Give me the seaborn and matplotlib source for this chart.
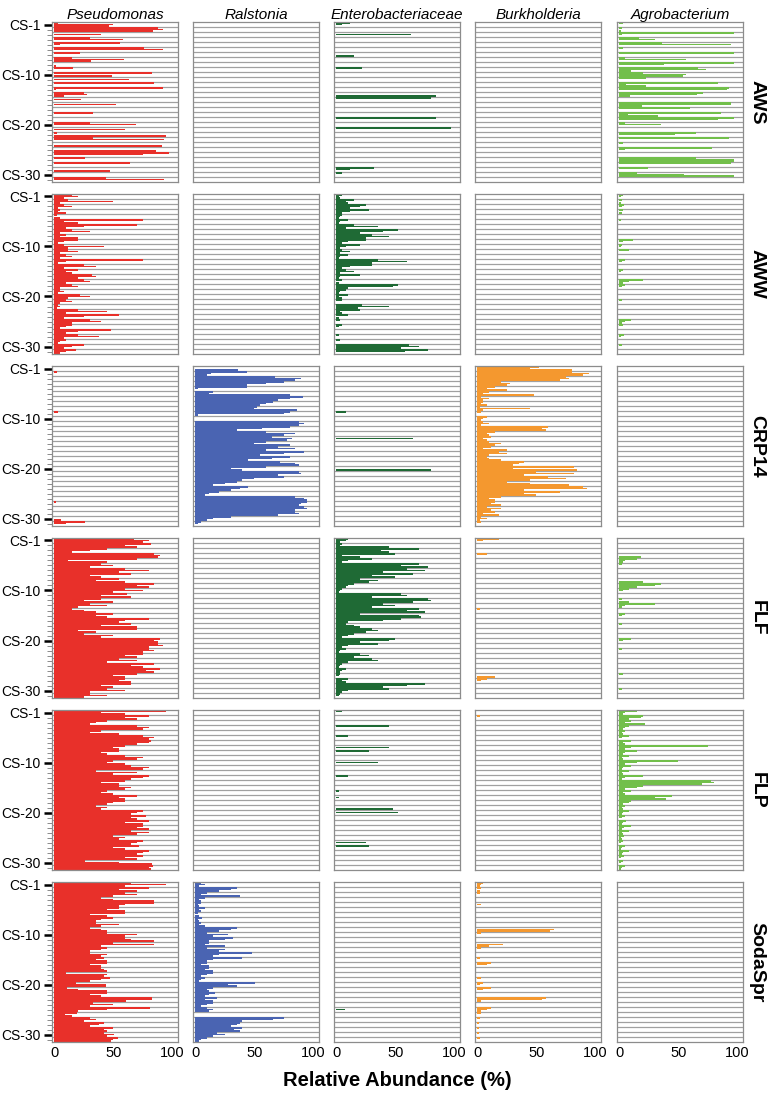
import matplotlib
matplotlib.use("Agg")
import matplotlib.pyplot as plt
import seaborn as sns
import pandas as pd

sites = ["AWS", "AWW", "CRP14", "FLF", "FLP", "SodaSpr"]
taxa = ["Pseudomonas", "Ralstonia", "Enterobacteriaceae", "Burkholderia", "Agrobacterium"]
taxon_colors = ["#e8302a", "#4a64b2", "#1f6a35", "#f4982f", "#72bf4b"]

# samples on the y axis (32 rows), label every 10th
n_rows = 32
tick_rows = [0, 10, 20, 30]
tick_labels = ["CS-1", "CS-10", "CS-20", "CS-30"]

# relative abundance (%), three replicates per sample row
aws_pseudomonas = [
    (3, 50, 46), (88, 92, 84), (0, 40, 0), (30, 58, 0),
    (56, 5, 0), (76, 92, 0), (22, 0, 0), (15, 59, 31),
    (0, 0, 1), (16, 0, 0), (83, 0, 49), (0, 63, 0),
    (85, 0, 0), (92, 1, 0), (25, 28, 8), (0, 23, 0),
    (0, 52, 0), (0, 0, 0), (33, 0, 0), (0, 0, 0),
    (30, 69, 0), (0, 60, 0), (2, 0, 95), (33, 93, 0),
    (0, 0, 91), (0, 0, 86), (97, 75, 0), (26, 0, 0),
    (64, 0, 0), (0, 0, 47), (0, 0, 0), (44, 93, 0),
]
aws_entero = {0: (12, 5, 0), 2: (0, 63, 0), 6: (0, 0, 15), 9: (22, 0, 0),
              14: (0, 0, 85), 15: (80, 0, 0), 19: (85, 0, 0), 21: (97, 0, 0),
              29: (32, 12, 0), 30: (5, 0, 0)}
aws_agro = [
    (3, 0, 0), (2, 0, 1), (97, 2, 0), (17, 30, 0),
    (36, 95, 0), (3, 0, 0), (97, 0, 0), (5, 57, 0),
    (97, 38, 0), (67, 74, 10), (20, 57, 54), (23, 0, 0),
    (84, 6, 23), (93, 91, 0), (71, 66, 9), (0, 0, 0),
    (95, 95, 19), (60, 0, 0), (86, 7, 33), (97, 84, 0),
    (5, 35, 0), (0, 0, 0), (65, 47, 0), (93, 0, 0),
    (3, 0, 0), (79, 5, 0), (0, 0, 0), (65, 97, 97),
    (95, 0, 0), (24, 0, 0), (15, 55, 97), (0, 0, 0),
]

aww_pseudomonas = [
    (15, 20, 8), (12, 50, 5), (8, 15, 3), (5, 3, 10),
    (2, 0, 5), (75, 8, 20), (70, 25, 10), (15, 30, 5),
    (10, 5, 20), (20, 8, 3), (8, 42, 12), (12, 20, 5),
    (10, 15, 5), (75, 10, 3), (25, 35, 8), (20, 10, 15),
    (32, 35, 20), (25, 30, 10), (15, 20, 5), (5, 8, 3),
    (22, 30, 12), (10, 15, 5), (3, 5, 2), (20, 45, 10),
    (55, 25, 8), (30, 40, 15), (15, 10, 5), (48, 20, 10),
    (20, 38, 8), (10, 5, 3), (25, 15, 8), (18, 10, 5),
]
aww_entero = [
    (5, 2, 3), (15, 8, 10), (25, 20, 12), (28, 12, 5),
    (5, 3, 2), (10, 3, 2), (15, 35, 8), (52, 40, 20),
    (30, 45, 25), (25, 10, 5), (20, 8, 3), (5, 12, 3),
    (10, 3, 2), (35, 60, 30), (30, 12, 5), (8, 15, 3),
    (20, 3, 2), (5, 0, 2), (52, 48, 10), (8, 3, 2),
    (10, 2, 5), (5, 0, 0), (22, 45, 18), (20, 3, 5),
    (10, 0, 2), (3, 0, 0), (5, 2, 0), (0, 0, 0),
    (2, 0, 0), (3, 0, 0), (62, 70, 55), (78, 58, 0),
]
aww_agro = {0: (3, 1, 0), 1: (2, 0, 1), 2: (4, 2, 0), 3: (3, 0, 2), 5: (1, 0, 0),
            9: (12, 3, 0), 10: (2, 1, 0), 11: (8, 0, 0), 13: (5, 2, 0), 15: (3, 1, 0),
            17: (20, 8, 3), 18: (5, 2, 0), 21: (2, 0, 0), 25: (10, 5, 2),
            26: (3, 0, 0), 28: (4, 1, 0), 30: (2, 0, 0)}

crp14_pseudomonas = {1: (2, 0, 0), 9: (3, 0, 0), 27: (1, 0, 0), 30: (0, 0, 6), 31: (26, 10, 0)}
crp14_ralstonia = [
    (0, 0, 36), (44, 13, 10), (68, 90, 85), (75, 60, 44),
    (44, 2, 0), (15, 12, 80), (91, 80, 70), (66, 60, 55),
    (52, 50, 86), (80, 75, 2), (0, 0, 0), (88, 92, 88),
    (80, 57, 35), (60, 85, 75), (65, 82, 78), (60, 50, 80),
    (70, 85, 60), (92, 75, 55), (80, 65, 45), (72, 85, 88),
    (60, 30, 40), (88, 90, 70), (75, 50, 40), (35, 25, 15),
    (45, 38, 30), (20, 12, 8), (85, 92, 95), (95, 90, 88),
    (92, 95, 85), (85, 88, 70), (30, 15, 10), (5, 2, 0),
]
crp14_entero = {9: (8, 0, 0), 14: (0, 65, 0), 20: (0, 0, 80)}
crp14_burkholderia = [
    (52, 45, 80), (80, 95, 90), (75, 78, 70), (20, 28, 25),
    (15, 8, 25), (10, 5, 48), (3, 10, 5), (5, 3, 8),
    (2, 45, 5), (3, 0, 0), (8, 5, 3), (5, 10, 3),
    (60, 55, 58), (15, 8, 10), (12, 5, 8), (10, 20, 15),
    (12, 5, 25), (18, 25, 10), (8, 10, 20), (40, 35, 30),
    (82, 30, 85), (50, 82, 40), (60, 75, 45), (25, 45, 78),
    (90, 93, 40), (70, 40, 50), (20, 10, 15), (15, 12, 20),
    (8, 20, 12), (15, 5, 18), (3, 8, 2), (3, 0, 0),
]

flf_pseudomonas = [
    (68, 80, 75), (82, 60, 70), (45, 30, 15), (85, 90, 88),
    (70, 12, 45), (40, 50, 30), (60, 80, 55), (65, 30, 40),
    (55, 35, 60), (85, 70, 80), (60, 75, 50), (62, 40, 65),
    (40, 25, 50), (30, 45, 20), (15, 25, 35), (50, 35, 45),
    (80, 60, 55), (65, 40, 70), (70, 20, 35), (25, 50, 40),
    (90, 85, 88), (88, 92, 80), (80, 85, 75), (75, 60, 70),
    (55, 70, 45), (85, 65, 75), (90, 78, 85), (70, 50, 60),
    (60, 55, 65), (65, 40, 50), (45, 60, 30), (30, 45, 25),
]
flf_entero = [
    (10, 8, 3), (5, 3, 45), (70, 38, 45), (50, 5, 20),
    (30, 10, 5), (70, 55, 78), (60, 75, 40), (65, 30, 50),
    (20, 35, 28), (15, 10, 8), (5, 3, 2), (55, 60, 30),
    (78, 80, 65), (40, 50, 30), (70, 60, 75), (20, 70, 72),
    (55, 40, 10), (8, 15, 20), (30, 35, 25), (15, 10, 5),
    (50, 45, 20), (35, 10, 5), (8, 3, 2), (20, 28, 15),
    (30, 35, 10), (5, 3, 2), (8, 5, 3), (3, 2, 0),
    (10, 5, 8), (75, 60, 40), (45, 10, 5), (3, 2, 0),
]
flf_burkholderia = {0: (18, 5, 0), 3: (8, 0, 0), 14: (2, 0, 0), 27: (0, 0, 15), 28: (8, 3, 0)}
flf_agro = {3: (0, 0, 18), 4: (15, 5, 3), 5: (2, 0, 0), 8: (0, 0, 20), 9: (35, 30, 15),
            10: (8, 3, 0), 12: (2, 0, 8), 13: (30, 5, 2), 15: (5, 2, 0), 17: (2, 0, 0),
            20: (10, 3, 0), 22: (2, 0, 0), 27: (3, 0, 0), 30: (2, 0, 0)}

flp_pseudomonas = [
    (95, 40, 60), (80, 60, 70), (45, 35, 30), (70, 80, 75),
    (40, 30, 55), (75, 85, 80), (82, 80, 70), (60, 50, 55),
    (55, 40, 45), (60, 75, 70), (50, 45, 60), (65, 80, 75),
    (35, 70, 50), (80, 75, 65), (60, 40, 55), (55, 65, 60),
    (45, 40, 50), (70, 55, 60), (60, 50, 45), (35, 45, 40),
    (75, 70, 65), (78, 65, 70), (80, 60, 75), (75, 70, 80),
    (65, 80, 70), (50, 60, 55), (75, 70, 65), (72, 50, 60),
    (80, 75, 70), (75, 60, 70), (26, 55, 83), (84, 80, 82),
]
flp_entero = {0: (5, 0, 0), 3: (45, 0, 0), 5: (10, 0, 0), 7: (0, 45, 0), 8: (28, 0, 0),
              10: (0, 35, 0), 13: (10, 0, 0), 16: (2, 0, 0), 17: (0, 2, 0),
              19: (0, 0, 48), 20: (0, 52, 0), 26: (0, 25, 0), 27: (28, 0, 0)}
flp_burkholderia = {1: (2, 0, 0)}
flp_agro = [
    (15, 5, 3), (20, 18, 8), (10, 5, 22), (8, 5, 3),
    (5, 2, 3), (8, 2, 0), (10, 3, 5), (75, 10, 5),
    (15, 5, 3), (8, 2, 3), (50, 15, 5), (10, 3, 2),
    (8, 2, 3), (20, 5, 2), (78, 80, 70), (20, 15, 5),
    (10, 3, 5), (45, 30, 40), (10, 8, 3), (5, 2, 3),
    (8, 3, 2), (5, 2, 0), (6, 3, 2), (10, 4, 2),
    (8, 2, 3), (4, 1, 2), (3, 1, 0), (5, 2, 1),
    (8, 3, 2), (4, 1, 0), (3, 1, 0), (5, 2, 1),
]

sodaspr_pseudomonas = [
    (65, 95, 60), (80, 55, 70), (60, 70, 50), (40, 50, 85),
    (85, 60, 55), (55, 45, 60), (60, 30, 45), (50, 40, 35),
    (35, 55, 40), (30, 40, 45), (45, 70, 60), (60, 65, 85),
    (50, 85, 40), (45, 40, 30), (30, 45, 40), (42, 35, 45),
    (45, 30, 40), (40, 42, 45), (10, 45, 42), (47, 40, 30),
    (18, 44, 44), (11, 20, 45), (45, 30, 40), (83, 83, 61),
    (33, 50, 30), (81, 45, 20), (19, 9, 15), (30, 35, 25),
    (42, 38, 30), (50, 42, 45), (42, 51, 45), (54, 50, 48),
]
sodaspr_ralstonia = [
    (5, 8, 3), (35, 30, 20), (10, 5, 38), (8, 3, 5),
    (5, 2, 3), (8, 3, 5), (2, 0, 3), (6, 2, 3),
    (5, 3, 8), (35, 30, 20), (10, 28, 15), (32, 25, 12),
    (12, 8, 25), (10, 25, 20), (48, 20, 15), (40, 15, 10),
    (10, 5, 12), (12, 8, 15), (15, 10, 5), (8, 5, 3),
    (51, 28, 35), (15, 10, 12), (17, 12, 8), (18, 8, 15),
    (15, 10, 5), (10, 15, 12), (0, 0, 0), (75, 66, 40),
    (38, 35, 30), (40, 33, 38), (18, 25, 15), (10, 5, 3),
]
sodaspr_entero = {25: (0, 7, 0)}
sodaspr_burkholderia = {0: (5, 3, 2), 1: (3, 0, 2), 2: (2, 0, 0), 4: (0, 3, 0), 9: (0, 65, 62),
                        10: (3, 0, 0), 12: (0, 22, 10), 13: (3, 0, 0), 15: (2, 0, 0),
                        16: (12, 8, 0), 19: (3, 0, 0), 20: (5, 2, 0), 21: (12, 5, 0),
                        23: (58, 55, 3), 25: (12, 8, 3), 26: (3, 0, 0), 27: (2, 0, 0),
                        28: (1, 0, 0), 29: (1, 0, 0), 30: (1, 0, 0), 31: (2, 0, 0)}

empty = {}


def expand(rows):
    # sparse {row: replicates} -> full list of rows
    if isinstance(rows, list):
        return rows
    return [rows.get(k, (0, 0, 0)) for k in range(n_rows)]


panels = {
    "AWS": [aws_pseudomonas, empty, aws_entero, empty, aws_agro],
    "AWW": [aww_pseudomonas, empty, aww_entero, empty, aww_agro],
    "CRP14": [crp14_pseudomonas, crp14_ralstonia, crp14_entero, crp14_burkholderia, empty],
    "FLF": [flf_pseudomonas, empty, flf_entero, flf_burkholderia, flf_agro],
    "FLP": [flp_pseudomonas, empty, flp_entero, flp_burkholderia, flp_agro],
    "SodaSpr": [sodaspr_pseudomonas, sodaspr_ralstonia, sodaspr_entero, sodaspr_burkholderia, empty],
}

sns.set_style("white")
plt.rcParams["font.family"] = ["Liberation Sans", "DejaVu Sans"]
plt.rcParams["text.color"] = "black"
plt.rcParams["xtick.color"] = "black"
plt.rcParams["ytick.color"] = "black"

W, H = 773, 1100
fig = plt.figure(figsize=(W / 100, H / 100), dpi=100)

col_left = [52, 193, 334, 475, 617]
row_top = [22, 194, 366, 538, 710, 882]
panel_w, panel_h = 126, 160

for i, site in enumerate(sites):
    for j, taxon in enumerate(taxa):
        ax = fig.add_axes([col_left[j] / W, (H - row_top[i] - panel_h) / H, panel_w / W, panel_h / H])
        vals = expand(panels[site][j])
        df = pd.DataFrame(
            [(k, "r%d" % r, v) for k, trip in enumerate(vals) for r, v in enumerate(trip)],
            columns=["row", "rep", "value"],
        )
        sns.barplot(data=df, x="value", y="row", hue="rep", orient="h",
                    palette=[taxon_colors[j]] * 3, saturation=1, dodge=True,
                    width=0.92, linewidth=0, errorbar=None, legend=False, ax=ax)
        for k in range(n_rows - 1):
            ax.axhline(k + 0.5, color="#a0a0a0", lw=0.9, zorder=0)
        ax.set_xlim(-2, 105)
        ax.set_ylim(n_rows - 0.5, -0.5)
        ax.set_xlabel("")
        ax.set_ylabel("")
        for s in ax.spines.values():
            s.set_color("#8c8c8c")
            s.set_linewidth(0.9)

        if j == 0:
            ax.set_yticks(tick_rows)
            ax.set_yticklabels(tick_labels, fontsize=10)
            ax.set_yticks(range(n_rows), minor=True)
            ax.tick_params(axis="y", which="both", left=True)
            ax.tick_params(axis="y", which="major", length=6, width=1.8, color="black", pad=2)
            ax.tick_params(axis="y", which="minor", length=3.5, width=0.6, color="#777777")
        else:
            ax.set_yticks([])
            ax.set_yticks([], minor=True)

        if i == len(sites) - 1:
            ax.set_xticks([0, 50, 100])
            ax.set_xticklabels(["0", "50", "100"], fontsize=10.5)
            ax.tick_params(axis="x", length=0, pad=3)
        else:
            ax.set_xticks([])

        if i == 0:
            ax.set_title(taxon, style="italic", fontsize=11, pad=1.5)
        if j == len(taxa) - 1:
            ax.text(1.11, 0.5, site, transform=ax.transAxes, rotation=270,
                    ha="center", va="center", fontsize=14, fontweight="bold")

fig.text(397 / W, 1 - 1080 / H, "Relative Abundance (%)", ha="center", va="center",
         fontsize=14.5, fontweight="bold")

fig.savefig("out.png", dpi=100)
